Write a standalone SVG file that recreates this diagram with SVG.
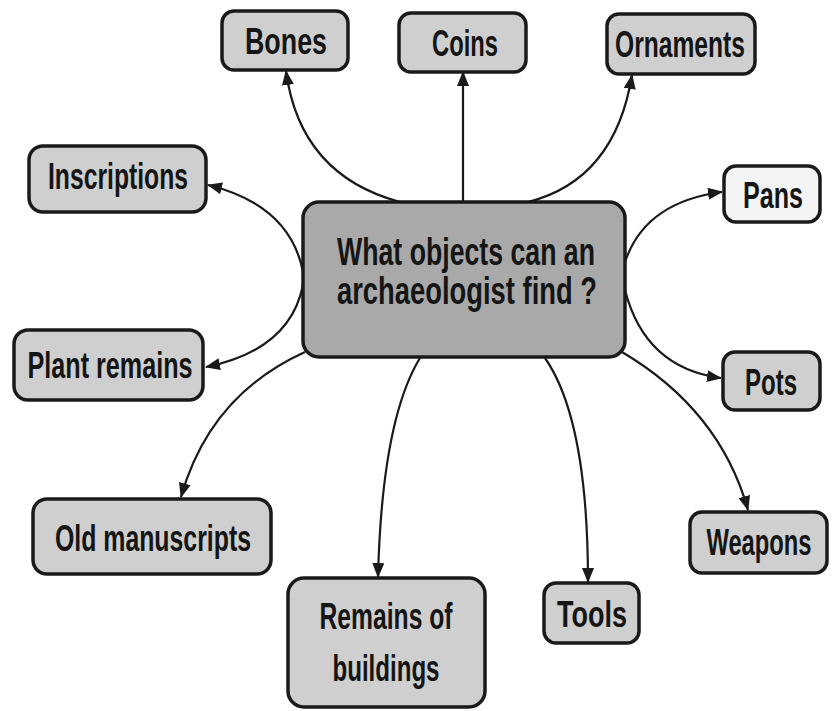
<svg xmlns="http://www.w3.org/2000/svg" width="833" height="711" viewBox="0 0 833 711">
<style>
.box{fill:#cfcfcf;stroke:#1a1a1a;stroke-width:3.5}
.light{fill:#f4f4f4}
.center{fill:#a9a9a9}
.t{font-family:"Liberation Sans",Arial,sans-serif;font-weight:bold;font-size:36px;fill:#151515;text-anchor:middle}
.ct{font-size:38px}
.c{fill:none;stroke:#1a1a1a;stroke-width:2.2}
</style>
<defs>
<marker id="ah" markerUnits="userSpaceOnUse" markerWidth="16" markerHeight="12" refX="14" refY="6" orient="auto">
<path d="M0,0 L15,6 L0,12 Z" fill="#1a1a1a"/>
</marker>
</defs>
<g id="connectors">
<path class="c" d="M400,202 Q300,175 286,71" marker-end="url(#ah)"/>
<path class="c" d="M463,202 L463,72" marker-end="url(#ah)"/>
<path class="c" d="M528,202 Q615,180 632,75" marker-end="url(#ah)"/>
<path class="c" d="M303,272 Q290,205 208,185" marker-end="url(#ah)"/>
<path class="c" d="M303,285 Q290,350 206,367" marker-end="url(#ah)"/>
<path class="c" d="M625,262 Q645,202 722,192" marker-end="url(#ah)"/>
<path class="c" d="M625,290 Q645,368 721,378" marker-end="url(#ah)"/>
<path class="c" d="M305,352 Q210,395 181,497" marker-end="url(#ah)"/>
<path class="c" d="M420,358 Q382,420 378,577" marker-end="url(#ah)"/>
<path class="c" d="M545,358 Q588,420 588,582" marker-end="url(#ah)"/>
<path class="c" d="M622,352 Q720,410 748,510" marker-end="url(#ah)"/>
</g>
<g id="center">
<rect class="box center" x="303" y="202" width="322" height="155" rx="16"/>
<text class="t ct" x="466" y="265" textLength="258" lengthAdjust="spacingAndGlyphs">What objects can an</text>
<text class="t ct" x="467" y="304" textLength="260" lengthAdjust="spacingAndGlyphs">archaeologist find ?</text>
</g>
<g id="bones">
<rect class="box" x="222" y="11" width="126" height="59" rx="12"/>
<text class="t" x="286" y="54" textLength="82" lengthAdjust="spacingAndGlyphs">Bones</text>
</g>
<g id="coins">
<rect class="box" x="399" y="13" width="127" height="59" rx="12"/>
<text class="t" x="465" y="56" textLength="66" lengthAdjust="spacingAndGlyphs">Coins</text>
</g>
<g id="ornaments">
<rect class="box" x="607" y="14" width="148" height="60" rx="12"/>
<text class="t" x="680" y="57" textLength="130" lengthAdjust="spacingAndGlyphs">Ornaments</text>
</g>
<g id="inscriptions">
<rect class="box" x="29" y="146" width="177" height="66" rx="14"/>
<text class="t" x="118" y="189" textLength="140" lengthAdjust="spacingAndGlyphs">Inscriptions</text>
</g>
<g id="pans">
<rect class="box light" x="724" y="166" width="96" height="56" rx="12"/>
<text class="t" x="773" y="208" textLength="60" lengthAdjust="spacingAndGlyphs">Pans</text>
</g>
<g id="plant-remains">
<rect class="box" x="14" y="330" width="189" height="70" rx="14"/>
<text class="t" x="110" y="378" textLength="165" lengthAdjust="spacingAndGlyphs">Plant remains</text>
</g>
<g id="pots">
<rect class="box" x="723" y="352" width="97" height="58" rx="12"/>
<text class="t" x="771" y="395" textLength="52" lengthAdjust="spacingAndGlyphs">Pots</text>
</g>
<g id="old-manuscripts">
<rect class="box" x="33" y="499" width="238" height="75" rx="14"/>
<text class="t" x="153" y="551" textLength="196" lengthAdjust="spacingAndGlyphs">Old manuscripts</text>
</g>
<g id="weapons">
<rect class="box" x="690" y="512" width="137" height="61" rx="12"/>
<text class="t" transform="translate(759,555) scale(0.66,1)" x="0" y="0">Weapons</text>
</g>
<g id="remains-of-buildings">
<rect class="box" x="288" y="578" width="197" height="129" rx="16"/>
<text class="t" x="386" y="629" textLength="133" lengthAdjust="spacingAndGlyphs">Remains of</text>
<text class="t" x="386" y="681" textLength="107" lengthAdjust="spacingAndGlyphs">buildings</text>
</g>
<g id="tools">
<rect class="box" x="544" y="583" width="95" height="60" rx="12"/>
<text class="t" x="592" y="627" textLength="70" lengthAdjust="spacingAndGlyphs">Tools</text>
</g>
</svg>
